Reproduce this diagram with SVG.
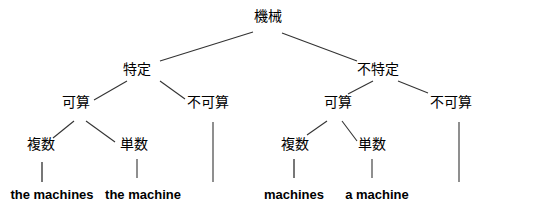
<svg xmlns="http://www.w3.org/2000/svg" width="550" height="217" viewBox="0 0 550 217">
<style>
.cjk{font-family:"Noto Sans CJK JP","Noto Sans CJK SC",sans-serif;font-size:14px;fill:#000;text-anchor:middle}
.en{font-family:"Liberation Sans",Arial,sans-serif;font-size:13px;font-weight:bold;fill:#000;text-anchor:middle}
.ln{stroke:#333;stroke-width:1.1;fill:none}
.gr{stroke:#777;stroke-width:2;fill:none}
</style>
<rect width="550" height="217" fill="#fff"/>
<g id="connectors">
<line class="ln" x1="253" y1="32" x2="160" y2="61"/>
<line class="ln" x1="282" y1="33" x2="357" y2="61"/>
<line class="ln" x1="127" y1="81" x2="94" y2="100"/>
<line class="ln" x1="160" y1="81" x2="185" y2="99"/>
<line class="ln" x1="373" y1="81" x2="348" y2="94"/>
<line class="ln" x1="398" y1="81" x2="428" y2="93"/>
<line class="ln" x1="74" y1="121" x2="53" y2="138"/>
<line class="ln" x1="86" y1="121" x2="115" y2="142"/>
<line class="ln" x1="327" y1="121" x2="307" y2="135"/>
<line class="ln" x1="342" y1="121" x2="357" y2="141"/>
<line class="gr" x1="42" y1="162" x2="42" y2="182"/>
<line class="ln" x1="137" y1="159" x2="137" y2="178"/>
<line class="ln" x1="213" y1="122" x2="213" y2="182"/>
<line class="gr" x1="294" y1="159" x2="294" y2="178"/>
<line class="ln" x1="372" y1="159" x2="372" y2="178"/>
<line class="ln" x1="459" y1="122" x2="459" y2="182"/>
</g>
<g id="n-root"><text class="cjk" x="268" y="21">機械</text></g>
<g id="n-tokutei"><text class="cjk" x="137" y="74">特定</text></g>
<g id="n-futokutei"><text class="cjk" x="378" y="74">不特定</text></g>
<g id="n-kasan1"><text class="cjk" x="76" y="107">可算</text></g>
<g id="n-fukasan1"><text class="cjk" x="208" y="107">不可算</text></g>
<g id="n-kasan2"><text class="cjk" x="338" y="107">可算</text></g>
<g id="n-fukasan2"><text class="cjk" x="451" y="107">不可算</text></g>
<g id="n-fukusu1"><text class="cjk" x="41" y="149">複数</text></g>
<g id="n-tansu1"><text class="cjk" x="134" y="149">単数</text></g>
<g id="n-fukusu2"><text class="cjk" x="295" y="149">複数</text></g>
<g id="n-tansu2"><text class="cjk" x="372" y="149">単数</text></g>
<g id="n-l1"><text class="en" x="52" y="199">the machines</text></g>
<g id="n-l2"><text class="en" x="143" y="199">the machine</text></g>
<g id="n-l3"><text class="en" x="294" y="199">machines</text></g>
<g id="n-l4"><text class="en" x="377" y="199">a machine</text></g>
</svg>
